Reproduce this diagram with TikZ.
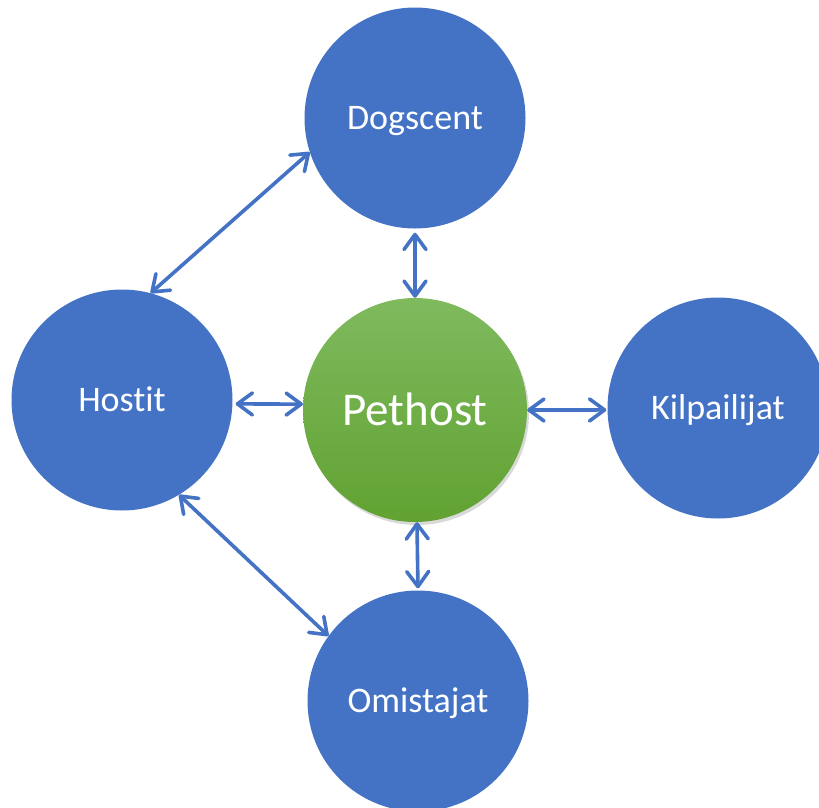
\documentclass[tikz,border=0pt]{standalone}
\usepackage{fontspec}
\setmainfont[Ligatures=NoCommon]{Carlito}
\usetikzlibrary{arrows.meta, shadows}
\definecolor{officeblue}{RGB}{68,114,196}
\definecolor{greentop}{RGB}{127,186,94}
\definecolor{greenbottom}{RGB}{97,162,50}

\tikzset{
  party/.style={circle, fill=officeblue, text=white, minimum size=221pt, inner sep=0pt,
    text height=27pt, text depth=4pt, font=\fontsize{36}{40}\selectfont},
  hub/.style={circle, top color=greentop, bottom color=greenbottom, text=white,
    minimum size=224pt, inner sep=0pt, text height=34pt, text depth=4pt,
    font=\fontsize{47}{50}\selectfont,
    drop shadow={opacity=0.3, shadow xshift=2pt, shadow yshift=-3pt}},
  link/.style={draw=officeblue, line width=3.6pt,
    {Straight Barb[length=15pt, width=22pt, round]}-{Straight Barb[length=15pt, width=22pt, round]}}
}

\begin{document}
\begin{tikzpicture}[x=1pt, y=-1pt]
\useasboundingbox (0,0) rectangle (819,807);
\node[party] (dog) at (415,118) {Dogscent};
\node[party] (host) at (122,400) {Hostit};
\node[hub] (pet) at (415,410) {Pethost};
\node[party] (kil) at (718,408) {Kilpailijat};
\node[party] (om) at (418,701) {Omistajat};
\draw[link] (dog.198) -- (host.75);
\draw[link, shorten <=4pt] (dog.south) -- (pet.north);
\draw[link, shorten <=3pt] (host.-2) -- (pet.177);
\draw[link, shorten >=1pt] (pet.east) -- (kil.181);
\draw[link, shorten >=2pt] (pet.-89) -- (om.north);
\draw[link] (host.-59) -- (om.144);
\end{tikzpicture}
\end{document}
